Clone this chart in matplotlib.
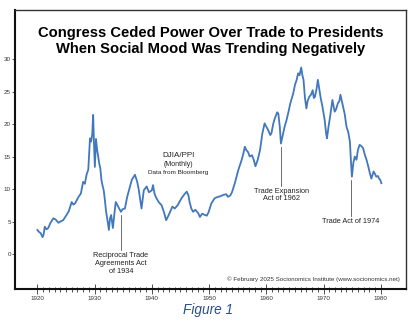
import matplotlib
matplotlib.use("Agg")
import matplotlib.pyplot as plt
from matplotlib.ticker import MultipleLocator, FixedLocator

plt.rcParams['font.family'] = ['Liberation Sans', 'DejaVu Sans']

years = [1920.0, 1920.3, 1920.6, 1920.9, 1921.1, 1921.3, 1921.6, 1921.9, 1922.3, 1922.8,
         1923.2, 1923.7, 1924.0, 1924.5, 1925.1, 1925.5, 1926.0, 1926.3, 1926.6, 1927.2,
         1927.6, 1928.0, 1928.3, 1928.6, 1928.9, 1929.2, 1929.4, 1929.6, 1929.75, 1929.9,
         1930.05, 1930.25, 1930.45, 1930.6, 1930.8, 1931.0, 1931.2, 1931.4, 1931.6, 1931.8,
         1932.0, 1932.2, 1932.5, 1932.7, 1932.9, 1933.2, 1933.5, 1933.7, 1934.0, 1934.3,
         1934.6, 1934.9, 1935.3, 1935.7, 1936.0, 1936.5, 1937.05, 1937.45, 1937.7, 1937.9,
         1938.2, 1938.6, 1939.1, 1939.5, 1940.0, 1940.2, 1940.5, 1940.8, 1941.2, 1941.7,
         1942.1, 1942.5, 1942.9, 1943.2, 1943.6, 1944.0, 1944.5, 1945.2, 1945.7, 1946.1,
         1946.4, 1946.6, 1946.9, 1947.2, 1947.6, 1948.1, 1948.4, 1948.8, 1949.3, 1949.6,
         1949.9, 1950.4, 1951.0, 1951.6, 1952.0, 1952.5, 1953.0, 1953.3, 1953.7, 1954.0,
         1954.5, 1955.1, 1955.7, 1956.0, 1956.25, 1956.5, 1956.8, 1957.1, 1957.5, 1957.8,
         1958.1, 1958.5, 1958.9, 1959.3, 1959.7, 1960.0, 1960.3, 1960.7, 1960.9, 1961.2,
         1961.5, 1961.9, 1962.1, 1962.35, 1962.55, 1962.8, 1963.2, 1963.5, 1963.8, 1964.2,
         1964.7, 1965.0, 1965.3, 1965.55, 1965.8, 1966.1, 1966.3, 1966.5, 1966.75, 1967.0,
         1967.2, 1967.5, 1967.8, 1968.1, 1968.3, 1968.5, 1968.8, 1969.0, 1969.2, 1969.5,
         1969.8, 1970.2, 1970.45, 1970.6, 1970.85, 1971.1, 1971.35, 1971.55, 1971.8, 1971.95,
         1972.2, 1972.5, 1972.75, 1972.95, 1973.2, 1973.4, 1973.7, 1974.0, 1974.3, 1974.6,
         1974.8, 1974.95, 1975.2, 1975.45, 1975.75, 1976.0, 1976.3, 1976.6, 1976.9, 1977.2,
         1977.5, 1977.8, 1978.1, 1978.35, 1978.75, 1979.0, 1979.2, 1979.5, 1979.7, 1979.9,
         1980.1]
ratio = [3.7, 3.4, 3.2, 2.6, 3.0, 4.2, 3.8, 4.0, 4.8, 5.5,
         5.3, 4.8, 5.0, 5.2, 6.0, 6.6, 8.0, 7.6, 7.8, 8.8,
         9.3, 11.1, 10.8, 12.2, 13.0, 17.8, 17.3, 18.5, 21.4, 17.0,
         13.4, 17.7, 16.0, 15.2, 14.0, 13.2, 11.4, 10.5, 9.8, 8.3,
         6.6, 5.5, 3.7, 5.5, 6.0, 4.0, 6.5, 8.0, 7.5, 7.0,
         6.5, 6.9, 7.0, 8.8, 9.8, 11.4, 12.2, 11.1, 10.0, 8.8,
         7.0, 9.8, 10.4, 9.5, 9.8, 10.6, 9.2, 8.6, 8.0, 7.5,
         6.5, 5.2, 5.9, 6.5, 7.3, 7.0, 7.5, 8.6, 9.2, 9.6,
         9.0, 8.0, 7.0, 6.5, 6.8, 6.3, 5.7, 6.2, 6.0, 5.9,
         6.4, 7.8, 8.6, 8.8, 8.9, 9.1, 9.2, 8.8, 9.0, 9.5,
         10.9, 12.9, 14.5, 15.5, 16.5, 16.0, 15.7, 15.0, 15.2, 14.5,
         13.5, 14.5, 16.0, 18.5, 20.1, 19.6, 19.1, 18.3, 18.6, 20.0,
         20.9, 21.8, 21.6, 19.6, 17.0, 18.0, 19.6, 20.5, 21.6, 23.2,
         24.7, 26.0, 26.8, 27.8, 27.5, 28.7, 27.5, 26.8, 24.0, 22.4,
         23.5, 24.2, 24.5, 25.2, 24.0, 24.2, 25.5, 26.8, 25.7, 24.0,
         22.7, 20.6, 18.5, 17.8, 19.5, 20.9, 22.5, 23.7, 22.5, 21.9,
         22.3, 23.2, 23.5, 24.5, 23.5, 22.7, 21.5, 19.6, 18.8, 17.3,
         14.0, 11.9, 14.0, 15.0, 14.5, 16.0, 16.8, 16.6, 16.3, 15.3,
         14.5, 13.5, 12.4, 11.6, 12.7, 12.3, 11.9, 12.0, 11.6, 11.4,
         10.9]

y_ticks = [0, 5, 10, 15, 20, 25, 30]
x_major = [1920, 1930, 1940, 1950, 1960, 1970, 1980]
x_minor = list(range(1920, 1981))

title = "Congress Ceded Power Over Trade to Presidents\nWhen Social Mood Was Trending Negatively"
annotations = [
    ("Reciprocal Trade\nAgreements Act\nof 1934", 1934.6, 6.0, 0.6),
    ("Trade Expansion\nAct of 1962", 1962.65, 16.5, 10.5),
    ("Trade Act of 1974", 1974.75, 11.4, 5.8),
]

fig = plt.figure(figsize=(4.09, 3.21), dpi=100)
ax = fig.add_axes([15/409, 1-289/321, (406-15)/409, (289-10)/321])
ax.set_xlim(1916.1, 1984.4)
ax.set_ylim(-5.38, 37.54)

ax.plot(years, ratio, color='#4177BD', lw=1.3, solid_joinstyle='round')

for s in ['top', 'right']:
    ax.spines[s].set_linewidth(1.0)
    ax.spines[s].set_color('#333333')
for s in ['left', 'bottom']:
    ax.spines[s].set_linewidth(1.5)
    ax.spines[s].set_color('#111111')

ax.yaxis.set_major_locator(FixedLocator(y_ticks))
ax.tick_params(axis='y', direction='out', length=2.5, width=0.6, pad=0.5,
               labelsize=4.5, labelcolor='#333333', color='#333333')
ax.xaxis.set_major_locator(FixedLocator(x_major))
ax.xaxis.set_minor_locator(FixedLocator(x_minor))
ax.tick_params(axis='x', which='major', direction='inout', length=6.5, width=0.6,
               pad=1.5, labelsize=4.5, labelcolor='#333333', color='#333333')
ax.tick_params(axis='x', which='minor', direction='inout', length=3.6, width=0.6,
               color='#333333')

ax.text(0.5, 1 - (41 - 10)/279, title, transform=ax.transAxes, ha='center', va='center',
        fontsize=10.6, fontweight='bold', color='black', linespacing=1.2)

for label, x, ytop, ybot in annotations:
    ax.plot([x, x], [ybot, ytop], color='#555555', lw=0.6)
    ax.text(x, ybot - 0.3, label, ha='center', va='top', fontsize=5.3,
            color='#222222', linespacing=1.15)

ax.text(1944.6, 15.2, "DJIA/PPI", ha='center', va='center', fontsize=5.8, color='#222222')
ax.text(1944.6, 13.8, "(Monthly)", ha='center', va='center', fontsize=5.0, color='#222222')
ax.text(1944.6, 12.6, "Data from Bloomberg", ha='center', va='center', fontsize=4.6, color='#222222')

ax.text(0.985, 1 - (279 - 10)/279, "\u00a9 February 2025 Socionomics Institute (www.socionomics.net)",
        transform=ax.transAxes, ha='right', va='center', fontsize=4.5, color='#333333')

fig.text(208/409, 1 - 310/321, "Figure 1", ha='center', va='center', fontsize=9.8,
         style='italic', color='#2B4C8C')

fig.savefig("out.png", dpi=100)
